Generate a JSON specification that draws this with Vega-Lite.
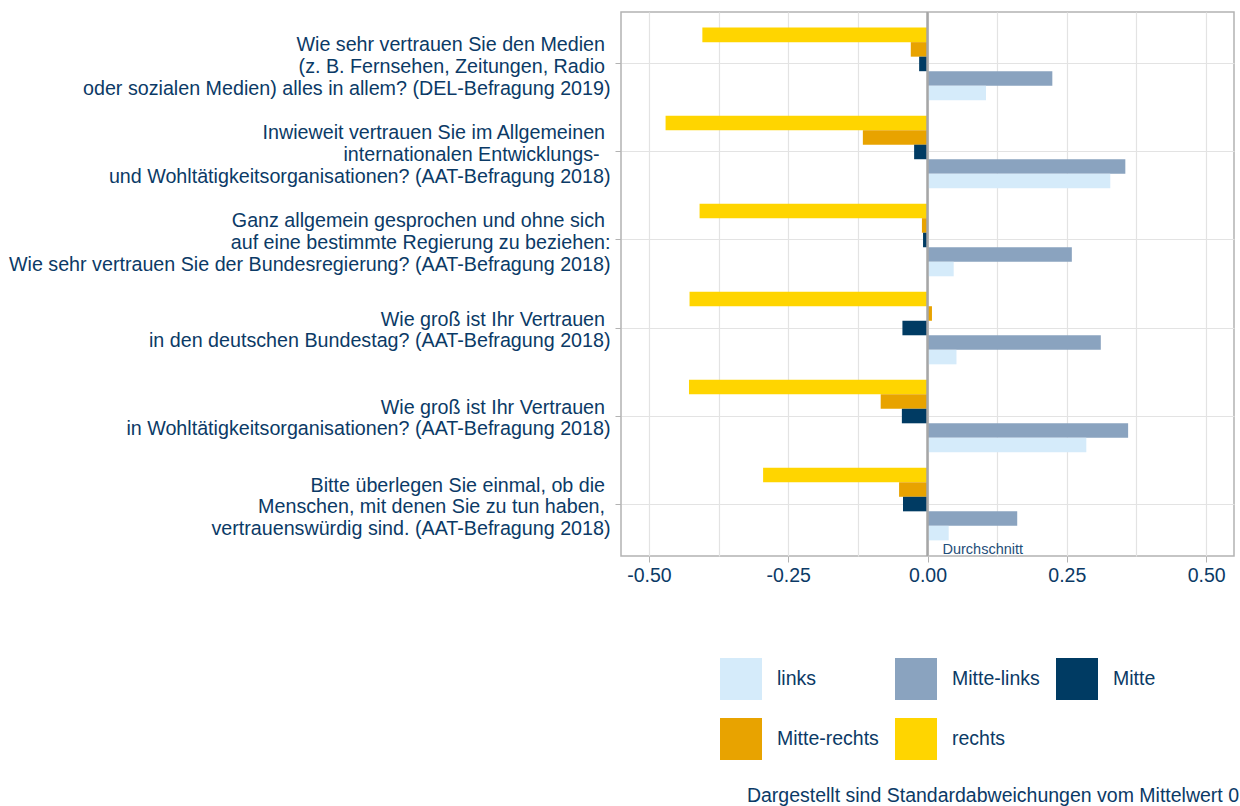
{
  "$schema": "https://vega.github.io/schema/vega-lite/v6.json",
  "width": 613,
  "height": 544,
  "autosize": {"type": "none"},
  "padding": {"left": 621, "top": 12, "right": 6, "bottom": 250},
  "background": "white",
  "config": {
    "font": "Liberation Sans",
    "view": {"stroke": "#b3b3b3", "strokeWidth": 1.5},
    "axis": {"domain": false, "title": null}
  },
  "title": {
    "text": "Dargestellt sind Standardabweichungen vom Mittelwert 0",
    "orient": "bottom",
    "anchor": "end",
    "frame": "bounds",
    "fontSize": 19.5,
    "fontWeight": "normal",
    "font": "Liberation Sans",
    "color": "#0b3a66",
    "offset": 27,
    "dx": 5
  },
  "datasets": {
    "werte": [
      {"frage": "Wie sehr vertrauen Sie den Medien\u00a0\u2060|(z. B. Fernsehen, Zeitungen, Radio\u00a0\u2060|oder sozialen Medien) alles in allem? (DEL-Befragung 2019)", "gruppe": "rechts", "wert": -0.404},
      {"frage": "Wie sehr vertrauen Sie den Medien\u00a0\u2060|(z. B. Fernsehen, Zeitungen, Radio\u00a0\u2060|oder sozialen Medien) alles in allem? (DEL-Befragung 2019)", "gruppe": "Mitte-rechts", "wert": -0.030},
      {"frage": "Wie sehr vertrauen Sie den Medien\u00a0\u2060|(z. B. Fernsehen, Zeitungen, Radio\u00a0\u2060|oder sozialen Medien) alles in allem? (DEL-Befragung 2019)", "gruppe": "Mitte", "wert": -0.015},
      {"frage": "Wie sehr vertrauen Sie den Medien\u00a0\u2060|(z. B. Fernsehen, Zeitungen, Radio\u00a0\u2060|oder sozialen Medien) alles in allem? (DEL-Befragung 2019)", "gruppe": "Mitte-links", "wert": 0.224},
      {"frage": "Wie sehr vertrauen Sie den Medien\u00a0\u2060|(z. B. Fernsehen, Zeitungen, Radio\u00a0\u2060|oder sozialen Medien) alles in allem? (DEL-Befragung 2019)", "gruppe": "links", "wert": 0.105},
      {"frage": "Inwieweit vertrauen Sie im Allgemeinen\u00a0\u2060|internationalen Entwicklungs-\u00a0\u00a0\u2060|und Wohltätigkeitsorganisationen? (AAT-Befragung 2018)", "gruppe": "rechts", "wert": -0.470},
      {"frage": "Inwieweit vertrauen Sie im Allgemeinen\u00a0\u2060|internationalen Entwicklungs-\u00a0\u00a0\u2060|und Wohltätigkeitsorganisationen? (AAT-Befragung 2018)", "gruppe": "Mitte-rechts", "wert": -0.116},
      {"frage": "Inwieweit vertrauen Sie im Allgemeinen\u00a0\u2060|internationalen Entwicklungs-\u00a0\u00a0\u2060|und Wohltätigkeitsorganisationen? (AAT-Befragung 2018)", "gruppe": "Mitte", "wert": -0.024},
      {"frage": "Inwieweit vertrauen Sie im Allgemeinen\u00a0\u2060|internationalen Entwicklungs-\u00a0\u00a0\u2060|und Wohltätigkeitsorganisationen? (AAT-Befragung 2018)", "gruppe": "Mitte-links", "wert": 0.355},
      {"frage": "Inwieweit vertrauen Sie im Allgemeinen\u00a0\u2060|internationalen Entwicklungs-\u00a0\u00a0\u2060|und Wohltätigkeitsorganisationen? (AAT-Befragung 2018)", "gruppe": "links", "wert": 0.328},
      {"frage": "Ganz allgemein gesprochen und ohne sich\u00a0\u2060|auf eine bestimmte Regierung zu beziehen:|Wie sehr vertrauen Sie der Bundesregierung? (AAT-Befragung 2018)", "gruppe": "rechts", "wert": -0.409},
      {"frage": "Ganz allgemein gesprochen und ohne sich\u00a0\u2060|auf eine bestimmte Regierung zu beziehen:|Wie sehr vertrauen Sie der Bundesregierung? (AAT-Befragung 2018)", "gruppe": "Mitte-rechts", "wert": -0.010},
      {"frage": "Ganz allgemein gesprochen und ohne sich\u00a0\u2060|auf eine bestimmte Regierung zu beziehen:|Wie sehr vertrauen Sie der Bundesregierung? (AAT-Befragung 2018)", "gruppe": "Mitte", "wert": -0.008},
      {"frage": "Ganz allgemein gesprochen und ohne sich\u00a0\u2060|auf eine bestimmte Regierung zu beziehen:|Wie sehr vertrauen Sie der Bundesregierung? (AAT-Befragung 2018)", "gruppe": "Mitte-links", "wert": 0.259},
      {"frage": "Ganz allgemein gesprochen und ohne sich\u00a0\u2060|auf eine bestimmte Regierung zu beziehen:|Wie sehr vertrauen Sie der Bundesregierung? (AAT-Befragung 2018)", "gruppe": "links", "wert": 0.047},
      {"frage": "Wie groß ist Ihr Vertrauen\u00a0\u2060|in den deutschen Bundestag? (AAT-Befragung 2018)", "gruppe": "rechts", "wert": -0.427},
      {"frage": "Wie groß ist Ihr Vertrauen\u00a0\u2060|in den deutschen Bundestag? (AAT-Befragung 2018)", "gruppe": "Mitte-rechts", "wert": 0.008},
      {"frage": "Wie groß ist Ihr Vertrauen\u00a0\u2060|in den deutschen Bundestag? (AAT-Befragung 2018)", "gruppe": "Mitte", "wert": -0.045},
      {"frage": "Wie groß ist Ihr Vertrauen\u00a0\u2060|in den deutschen Bundestag? (AAT-Befragung 2018)", "gruppe": "Mitte-links", "wert": 0.311},
      {"frage": "Wie groß ist Ihr Vertrauen\u00a0\u2060|in den deutschen Bundestag? (AAT-Befragung 2018)", "gruppe": "links", "wert": 0.052},
      {"frage": "Wie groß ist Ihr Vertrauen\u00a0\u2060|in Wohltätigkeitsorganisationen? (AAT-Befragung 2018)", "gruppe": "rechts", "wert": -0.428},
      {"frage": "Wie groß ist Ihr Vertrauen\u00a0\u2060|in Wohltätigkeitsorganisationen? (AAT-Befragung 2018)", "gruppe": "Mitte-rechts", "wert": -0.084},
      {"frage": "Wie groß ist Ihr Vertrauen\u00a0\u2060|in Wohltätigkeitsorganisationen? (AAT-Befragung 2018)", "gruppe": "Mitte", "wert": -0.046},
      {"frage": "Wie groß ist Ihr Vertrauen\u00a0\u2060|in Wohltätigkeitsorganisationen? (AAT-Befragung 2018)", "gruppe": "Mitte-links", "wert": 0.360},
      {"frage": "Wie groß ist Ihr Vertrauen\u00a0\u2060|in Wohltätigkeitsorganisationen? (AAT-Befragung 2018)", "gruppe": "links", "wert": 0.285},
      {"frage": "Bitte überlegen Sie einmal, ob die\u00a0\u2060|Menschen, mit denen Sie zu tun haben,\u00a0\u2060|vertrauenswürdig sind. (AAT-Befragung 2018)", "gruppe": "rechts", "wert": -0.295},
      {"frage": "Bitte überlegen Sie einmal, ob die\u00a0\u2060|Menschen, mit denen Sie zu tun haben,\u00a0\u2060|vertrauenswürdig sind. (AAT-Befragung 2018)", "gruppe": "Mitte-rechts", "wert": -0.051},
      {"frage": "Bitte überlegen Sie einmal, ob die\u00a0\u2060|Menschen, mit denen Sie zu tun haben,\u00a0\u2060|vertrauenswürdig sind. (AAT-Befragung 2018)", "gruppe": "Mitte", "wert": -0.044},
      {"frage": "Bitte überlegen Sie einmal, ob die\u00a0\u2060|Menschen, mit denen Sie zu tun haben,\u00a0\u2060|vertrauenswürdig sind. (AAT-Befragung 2018)", "gruppe": "Mitte-links", "wert": 0.161},
      {"frage": "Bitte überlegen Sie einmal, ob die\u00a0\u2060|Menschen, mit denen Sie zu tun haben,\u00a0\u2060|vertrauenswürdig sind. (AAT-Befragung 2018)", "gruppe": "links", "wert": 0.038}
    ],
    "nulllinie": [{"wert": 0, "text": "Durchschnitt"}]
  },
  "layer": [
    {
      "data": {"name": "werte"},
      "mark": {"type": "bar"},
      "encoding": {
        "y": {
          "field": "frage",
          "type": "nominal",
          "sort": null,
          "scale": {"paddingInner": 0, "paddingOuter": 0.09},
          "axis": {
            "labelExpr": "split(datum.label, '|')",
            "labelFontSize": 19.7,
            "labelLineHeight": 21.7,
            "labelColor": "#0b3a66",
            "labelPadding": 5,
            "labelLimit": 800,
            "labelOffset": {"condition": {"test": "length(split(datum.label, '|')) == 3", "value": -18.5}, "value": -8.5},
            "tickSize": 6,
            "tickColor": "#b3b3b3",
            "grid": true,
            "gridColor": "#e3e3e3",
            "gridWidth": 1.2
          }
        },
        "x": {
          "field": "wert",
          "type": "quantitative",
          "scale": {"domain": [-0.55, 0.55], "nice": false, "zero": false},
          "axis": {
            "values": [-0.5, -0.375, -0.25, -0.125, 0, 0.125, 0.25, 0.375, 0.5],
            "labelExpr": "round(datum.value*8)%2 != 0 ? '' : replace(format(datum.value, '.2f'), '\u2212', '-')",
            "labelFontSize": 19.5,
            "labelColor": "#0b3a66",
            "labelPadding": 4,
            "tickSize": 6,
            "tickColor": {"condition": {"test": "round(datum.value*8)%2 != 0", "value": "transparent"}, "value": "#b3b3b3"},
            "grid": true,
            "gridColor": "#e3e3e3",
            "gridWidth": 1.2
          }
        },
        "yOffset": {
          "field": "gruppe",
          "type": "nominal",
          "sort": ["rechts", "Mitte-rechts", "Mitte", "Mitte-links", "links"],
          "scale": {"paddingInner": 0, "paddingOuter": 0.53}
        },
        "color": {
          "field": "gruppe",
          "type": "nominal",
          "scale": {
            "domain": ["links", "Mitte-links", "Mitte", "Mitte-rechts", "rechts"],
            "range": ["#d5ebfa", "#8aa3bf", "#003b63", "#e8a300", "#ffd500"]
          },
          "legend": {
            "orient": "none",
            "legendX": 99,
            "legendY": 646,
            "direction": "horizontal",
            "columns": 3,
            "title": null,
            "padding": 0,
            "symbolType": "square",
            "symbolSize": 1764,
            "symbolStrokeWidth": 0,
            "symbolOpacity": 1,
            "labelFontSize": 19.5,
            "labelColor": "#0b3a66",
            "labelOffset": 15,
            "columnPadding": 16,
            "rowPadding": 18,
            "labelLimit": 300
          }
        }
      }
    },
    {
      "data": {"name": "nulllinie"},
      "mark": {"type": "rule", "color": "#a6a6a6", "strokeWidth": 2.5},
      "encoding": {
        "x": {"field": "wert", "type": "quantitative"}
      }
    },
    {
      "data": {"name": "nulllinie"},
      "mark": {"type": "text", "align": "left", "baseline": "alphabetic", "dx": 15, "dy": -2, "fontSize": 14.5, "color": "#1f4e79"},
      "encoding": {
        "x": {"field": "wert", "type": "quantitative"},
        "y": {"value": "height"},
        "text": {"field": "text"}
      }
    }
  ]
}
